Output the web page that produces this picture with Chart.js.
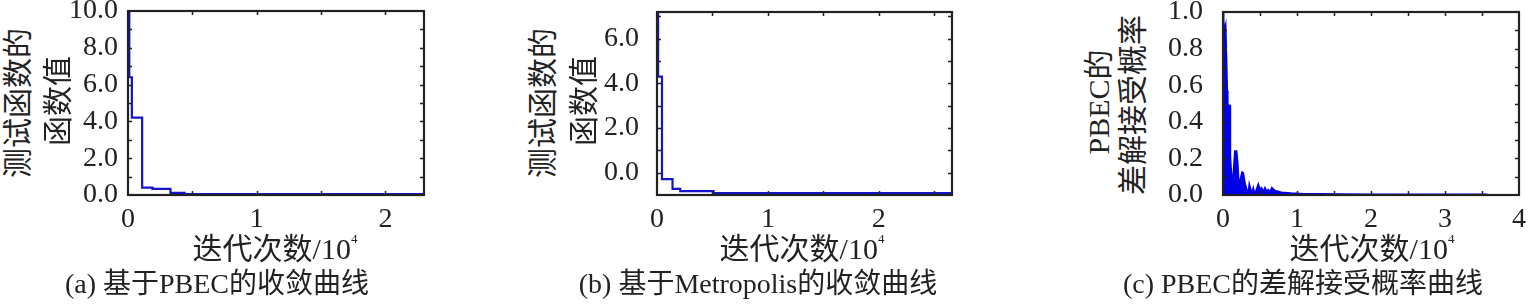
<!DOCTYPE html>
<html>
<head>
<meta charset="utf-8">
<script src="https://cdn.jsdelivr.net/npm/chart.js@4.4.1/dist/chart.umd.min.js"></script>
<style>
  html, body { margin: 0; padding: 0; background: #fff; }
  #wrap { position: relative; width: 1530px; height: 305px; overflow: hidden; }
  canvas { position: absolute; top: 0; }
  .txt { position: absolute; white-space: nowrap; line-height: 1; color: #222;
         font-family: "Liberation Serif", "Noto Sans CJK SC", serif; transform: translate(-50%, -50%); }
  .rot { transform: translate(-50%, -50%) rotate(-90deg); }
  .ax { font-size: 30px; }
  .cap { font-size: 28px; }
  sup { font-size: 13px; vertical-align: 16px; }
</style>
</head>
<body>
<div id="wrap">
  <canvas id="chart-a" width="380" height="305" style="left:60px"></canvas>
  <canvas id="chart-b" width="380" height="305" style="left:590px"></canvas>
  <canvas id="chart-c" width="380" height="305" style="left:1150px"></canvas>

  <!-- títulos dos eixos e legendas -->
  <div class="txt ax rot" style="left:18px; top:103px">测试函数的</div>
  <div class="txt ax rot" style="left:58px; top:101px">函数值</div>
  <div class="txt ax" style="left:275px; top:248px">迭代次数/10<sup>4</sup></div>
  <div class="txt cap" style="left:217px; top:284px">(a) 基于PBEC的收敛曲线</div>

  <div class="txt ax rot" style="left:543px; top:103px">测试函数的</div>
  <div class="txt ax rot" style="left:584px; top:101px">函数值</div>
  <div class="txt ax" style="left:802px; top:248px">迭代次数/10<sup>4</sup></div>
  <div class="txt cap" style="left:758px; top:284px">(b) 基于Metropolis的收敛曲线</div>

  <div class="txt ax rot" style="left:1099px; top:102px">PBEC的</div>
  <div class="txt ax rot" style="left:1133px; top:105px">差解接受概率</div>
  <div class="txt ax" style="left:1372px; top:248px">迭代次数/10<sup>4</sup></div>
  <div class="txt cap" style="left:1303px; top:284px">(c) PBEC的差解接受概率曲线</div>
</div>

<script>
// --- DADOS (x em unidades de 10^4 iterações) ---
const xA = [0, 0.01, 0.03, 0.11, 0.19, 0.33, 0.44, 2.3];
const yA = [10, 6.4, 4.2, 0.4, 0.33, 0.12, 0.05, 0.05];

const xB = [0, 0.01, 0.045, 0.14, 0.21, 0.51, 2.66];
const yB = [7.2, 4.3, -0.29, -0.73, -0.83, -0.91, -0.91];

const xC = [0, 0.005, 0.012, 0.02, 0.036, 0.05, 0.058, 0.065, 0.07, 0.095, 0.1, 0.117, 0.13,
            0.16, 0.185, 0.2, 0.216, 0.23, 0.257, 0.275, 0.3, 0.34, 0.355, 0.39, 0.41, 0.43,
            0.477, 0.5, 0.52, 0.545, 0.567, 0.59, 0.61, 0.64, 0.66, 0.7, 0.79, 0.92, 1.1,
            1.3, 1.6, 2.0, 2.5, 3.0, 3.57];
const yC = [1.0, 1.0, 0.95, 0.9, 0.93, 0.71, 0.57, 0.45, 0.49, 0.49, 0.21, 0.1, 0.06,
            0.24, 0.24, 0.17, 0.05, 0.08, 0.125, 0.12, 0.06, 0.005, 0.06, 0.01, 0.04, 0.005,
            0.06, 0.03, 0.04, 0.02, 0.04, 0.02, 0.03, 0.02, 0.04, 0.025, 0.015, 0.01, 0.007,
            0.006, 0.005, 0.004, 0.004, 0.004, 0.004];

// rótulos dos eixos
const xLabelsA = [0, 1, 2];
const yLabelsA = [0, 2, 4, 6, 8, 10];
const xLabelsB = [0, 1, 2];
const yLabelsB = [0, 2, 4, 6];
const xLabelsC = [0, 1, 2, 3, 4];
const yLabelsC = [0, 0.2, 0.4, 0.6, 0.8, 1.0];

// marcas menores (para dentro da caixa)
const xMinorA = [0.5, 1, 1.5, 2];
const yMinorA = [1, 2, 3, 4, 5, 6, 7, 8, 9];
const xMinorB = [0.5, 1, 1.5, 2, 2.5];
const yMinorB = [0, 1, 2, 3, 4, 5, 6, 7];
const xMinorC = [0.5, 1, 1.5, 2, 2.5, 3, 3.5];
const yMinorC = [0.1, 0.2, 0.3, 0.4, 0.5, 0.6, 0.7, 0.8, 0.9];

Chart.defaults.font.family = '"Liberation Serif", "Times New Roman", serif';
Chart.defaults.color = '#222';

const toPoints = (xs, ys) => xs.map((x, i) => ({ x, y: ys[i] }));

// desenha a moldura e as marcas internas usando as escalas do Chart.js
const boxPlugin = {
    id: 'boxTicks',
    afterDraw(chart, args, opts) {
        const { ctx, chartArea: a, scales } = chart;
        ctx.save();
        ctx.strokeStyle = '#222';
        ctx.lineWidth = 1.5;
        const len = 4;
        ctx.beginPath();
        opts.xMinor.forEach(v => {
            const px = Math.round(scales.x.getPixelForValue(v)) + 0.5;
            ctx.moveTo(px, a.bottom); ctx.lineTo(px, a.bottom - len);
            ctx.moveTo(px, a.top); ctx.lineTo(px, a.top + len);
        });
        opts.yMinor.forEach(v => {
            const py = Math.round(scales.y.getPixelForValue(v)) + 0.5;
            ctx.moveTo(a.left, py); ctx.lineTo(a.left + len, py);
            ctx.moveTo(a.right, py); ctx.lineTo(a.right - len, py);
        });
        ctx.stroke();
        ctx.lineWidth = 2.2;
        ctx.strokeRect(a.left, a.top, a.right - a.left, a.bottom - a.top);
        ctx.restore();
    }
};

function makePanel(canvasId, cfg) {
    const canvas = document.getElementById(canvasId);
    return new Chart(canvas, {
        type: 'line',
        data: {
            datasets: [{
                data: toPoints(cfg.xs, cfg.ys),
                borderColor: cfg.color,
                backgroundColor: cfg.fillColor || 'transparent',
                borderWidth: cfg.lineWidth,
                fill: cfg.fill ? 'origin' : false,
                stepped: cfg.stepped || false,
                tension: 0,
                pointRadius: 0
            }]
        },
        options: {
            responsive: false, animation: false, devicePixelRatio: 1,
            layout: { padding: { top: cfg.top, right: cfg.right, left: 0, bottom: 0 } },
            plugins: {
                legend: { display: false }, tooltip: { enabled: false },
                boxTicks: { xMinor: cfg.xMinor, yMinor: cfg.yMinor }
            },
            scales: {
                x: {
                    type: 'linear', min: cfg.xMin, max: cfg.xMax,
                    grid: { display: false }, border: { display: false },
                    afterBuildTicks: s => { s.ticks = cfg.xLabels.map(v => ({ value: v })); },
                    afterFit: s => { s.height = 305 - 195; s.paddingLeft = 0; s.paddingRight = 0; },
                    ticks: { autoSkip: false, maxRotation: 0, padding: 0, font: { size: 28 },
                             callback: v => String(v) }
                },
                y: {
                    type: 'linear', min: cfg.yMin, max: cfg.yMax,
                    grid: { display: false }, border: { display: false },
                    afterBuildTicks: s => { s.ticks = cfg.yLabels.map(v => ({ value: v })); },
                    afterFit: s => { s.width = cfg.left; s.paddingTop = 0; s.paddingBottom = 0; },
                    ticks: { autoSkip: false, padding: cfg.labelPad, font: { size: 28 },
                             callback: v => v.toFixed(1) }
                }
            }
        },
        plugins: [boxPlugin]
    });
}

makePanel('chart-a', {
    xs: xA, ys: yA, color: '#1414c8', lineWidth: 2.2, stepped: 'before',
    xMin: 0, xMax: 2.3, yMin: 0, yMax: 10,
    xLabels: xLabelsA, yLabels: yLabelsA, xMinor: xMinorA, yMinor: yMinorA,
    left: 68, right: 16, top: 11, labelPad: 2
});

makePanel('chart-b', {
    xs: xB, ys: yB, color: '#1414c8', lineWidth: 2.2, stepped: 'before',
    xMin: 0, xMax: 2.66, yMin: -1, yMax: 7.2,
    xLabels: xLabelsB, yLabels: yLabelsB, xMinor: xMinorB, yMinor: yMinorB,
    left: 67, right: 18, top: 12, labelPad: 10
});

makePanel('chart-c', {
    xs: xC, ys: yC, color: '#0000e6', fillColor: '#0000e6', fill: true, lineWidth: 1.6,
    xMin: 0, xMax: 4, yMin: 0, yMax: 1,
    xLabels: xLabelsC, yLabels: yLabelsC, xMinor: xMinorC, yMinor: yMinorC,
    left: 73, right: 11, top: 12, labelPad: 12
});
</script>
</body>
</html>
